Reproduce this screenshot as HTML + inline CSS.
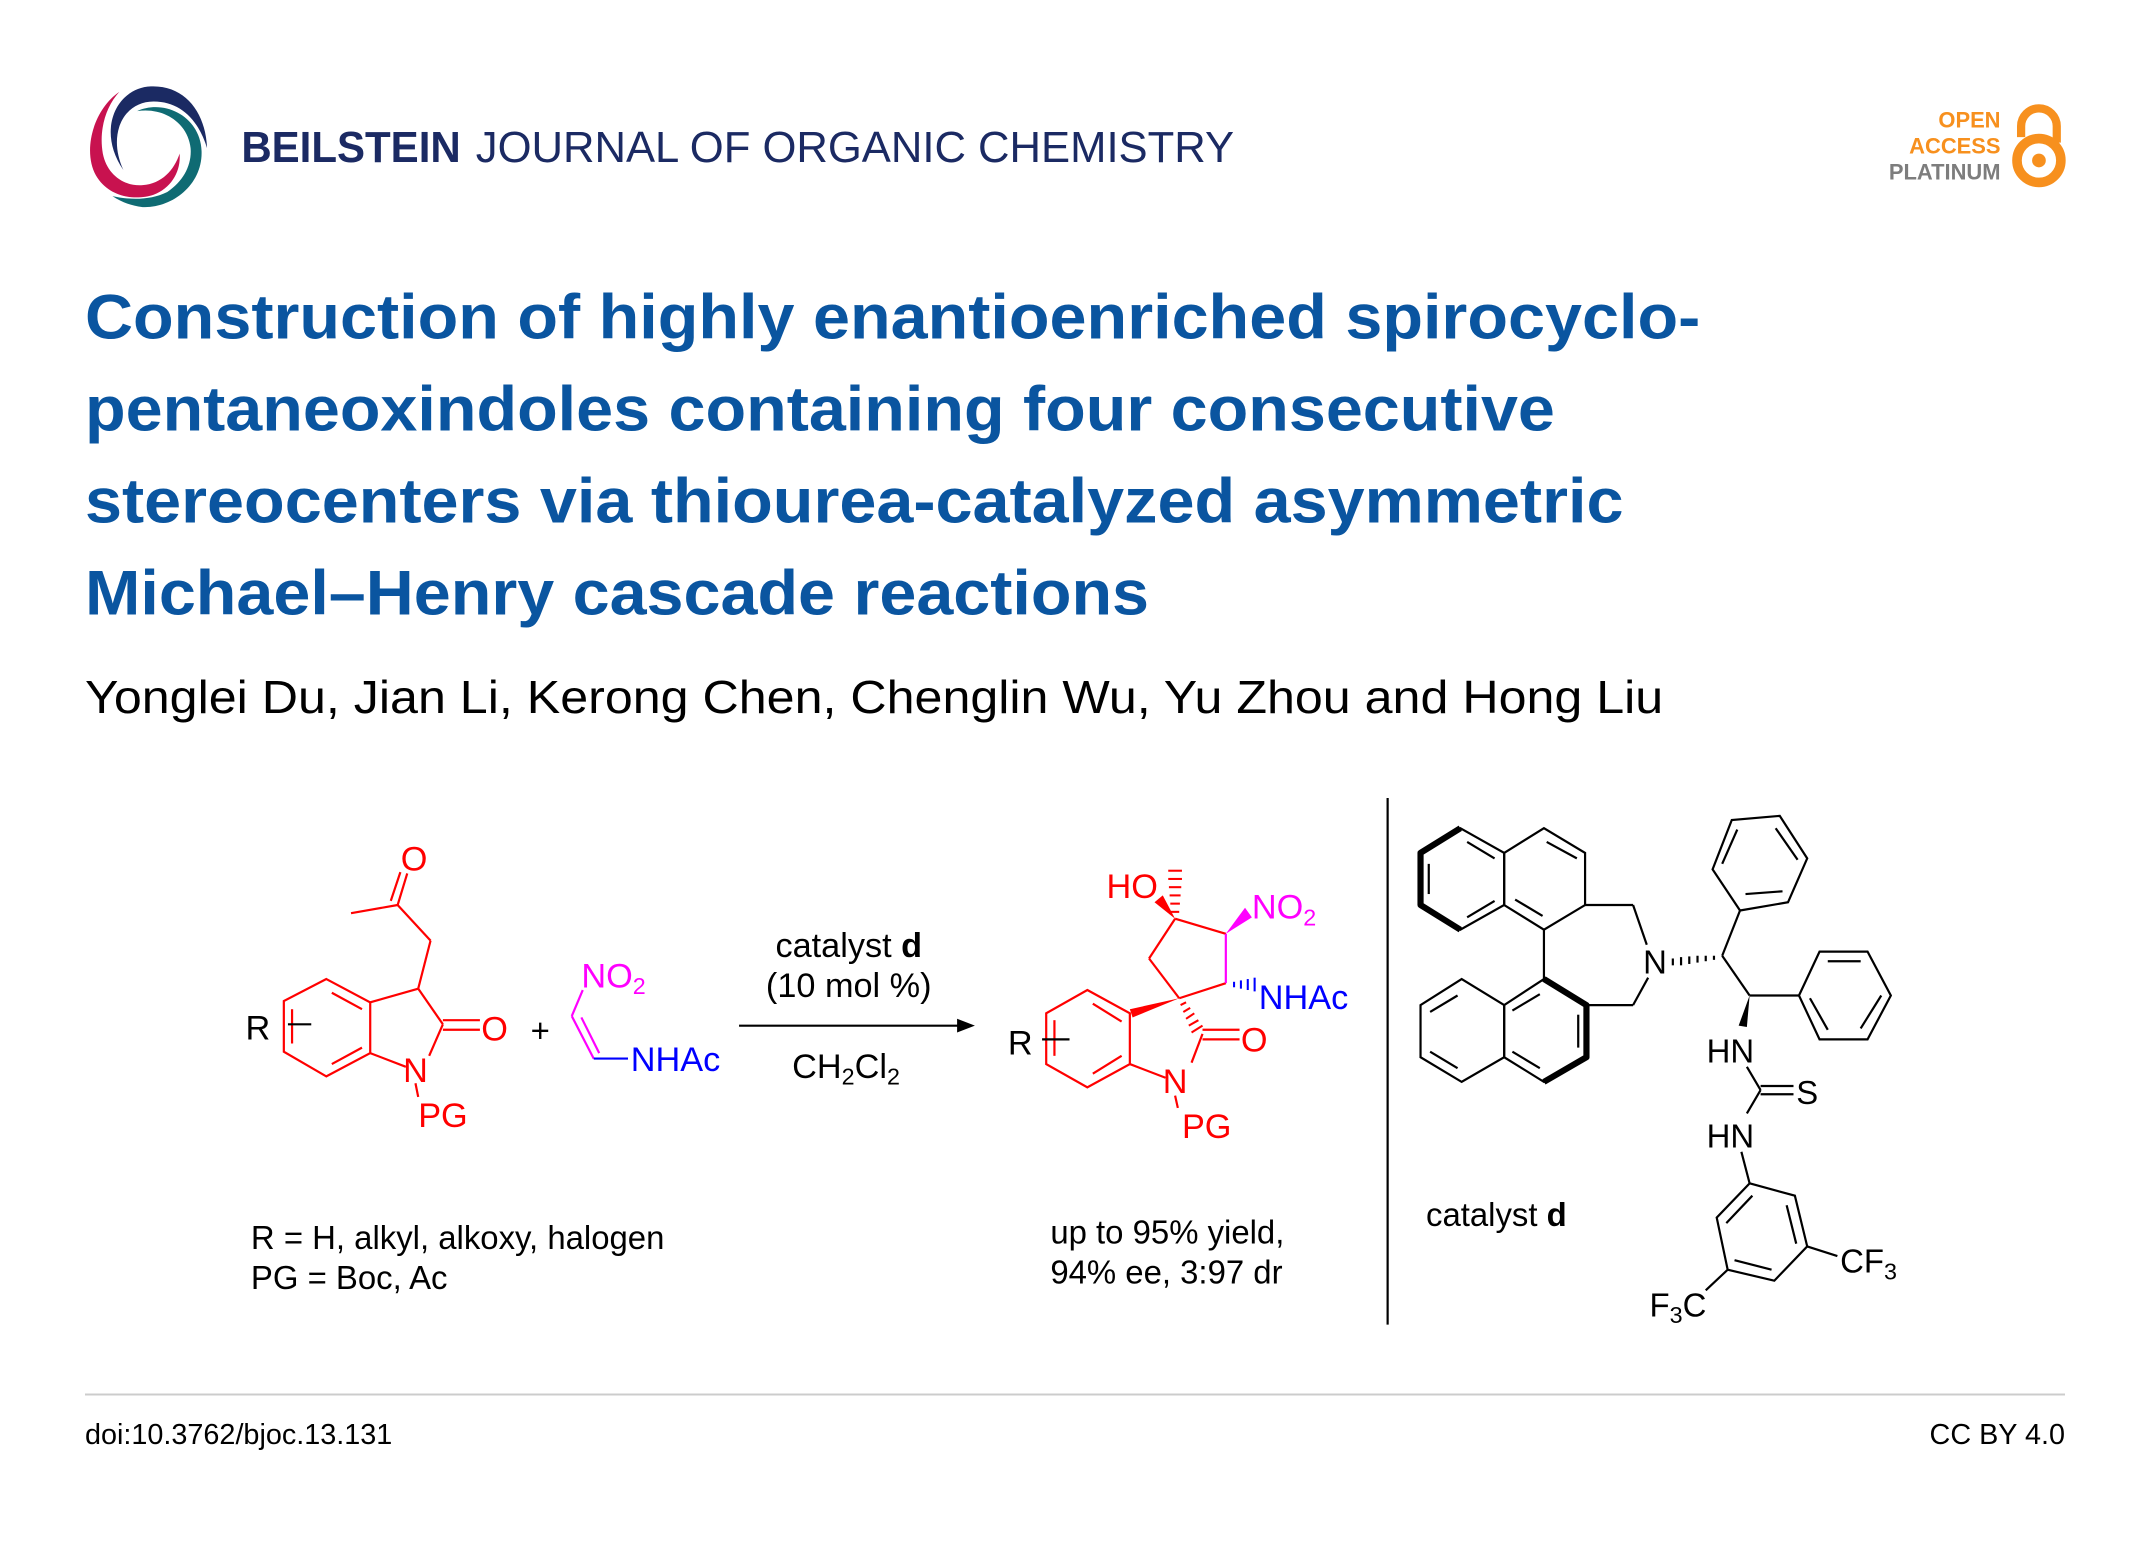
<!DOCTYPE html>
<html><head><meta charset="utf-8"><style>html,body{margin:0;padding:0;background:#fff}svg{display:block}</style></head>
<body>
<svg width="2150" height="1544" viewBox="0 0 1568 1126" xmlns="http://www.w3.org/2000/svg" font-family="Liberation Sans, Arial, sans-serif">
<rect width="1568" height="1126" fill="#fff"/>
<!-- logo -->
<path d="M87,67 C68,80 60,110 70,128 C80,145 100,146 112,142 C125,137 132,125 131,112 C127,124 118,134 104,135 C90,136 78,127 75,112 C72,95 77,78 87,67 Z" fill="#c8124f"/>
<path d="M100,81 C120,72 146,85 147,110 C148,135 125,152 104,151 C95,150 88,147 82,143 C95,146 110,146 122,140 C134,132 140,120 139,108 C137,90 120,78 100,81 Z" fill="#0f6b73"/>
<path d="M90,124 C70,95 85,64 110,63 C135,62 150,82 151,108 C145,88 132,74 112,74 C90,74 78,98 90,124 Z" fill="#1b2a63"/>
<text x="176" y="118" font-size="32" font-weight="bold" fill="#1b2a63" textLength="160" lengthAdjust="spacingAndGlyphs">BEILSTEIN</text>
<text x="347" y="118" font-size="32" fill="#1b2a63" textLength="553" lengthAdjust="spacingAndGlyphs">JOURNAL OF ORGANIC CHEMISTRY</text>
<!-- open access -->
<g font-size="16" font-weight="bold" text-anchor="end">
<text x="1459" y="93" fill="#f7901e">OPEN</text>
<text x="1459" y="112" fill="#f7901e">ACCESS</text>
<text x="1459" y="131" fill="#7d7d7d">PLATINUM</text>
</g>
<path d="M1474,100 V92 A13,13 0 0 1 1500,92 V104" stroke="#f7901e" stroke-width="6" fill="none"/>
<circle cx="1487" cy="117" r="16" stroke="#f7901e" stroke-width="7" fill="none"/>
<circle cx="1487" cy="117" r="5" fill="#f7901e"/>
<!-- title -->
<g font-size="46" font-weight="bold" fill="#0a55a0">
<text x="62" y="247" textLength="1178" lengthAdjust="spacingAndGlyphs">Construction of highly enantioenriched spirocyclo-</text>
<text x="62" y="314" textLength="1072" lengthAdjust="spacingAndGlyphs">pentaneoxindoles containing four consecutive</text>
<text x="62" y="381" textLength="1122" lengthAdjust="spacingAndGlyphs">stereocenters via thiourea-catalyzed asymmetric</text>
<text x="62" y="448" textLength="776" lengthAdjust="spacingAndGlyphs">Michael–Henry cascade reactions</text>
</g>
<text x="62" y="520" font-size="34" fill="#000" textLength="1151" lengthAdjust="spacingAndGlyphs">Yonglei Du, Jian Li, Kerong Chen, Chenglin Wu, Yu Zhou and Hong Liu</text>

<!-- left reactant -->
<g stroke="#f00" stroke-width="1.6" fill="none">
<polygon points="238,714 270,731 270,768 238,785 207,767 207,730"/>
<line x1="242" y1="724" x2="264" y2="736"/><line x1="242" y1="776" x2="264" y2="764"/><line x1="213" y1="736" x2="213" y2="761"/>
<line x1="270" y1="731" x2="305" y2="721"/><line x1="305" y1="721" x2="323" y2="747"/><line x1="323" y1="747" x2="313" y2="770"/>
<line x1="270" y1="768" x2="296" y2="778"/><line x1="303" y1="790" x2="305" y2="800"/>
<line x1="323" y1="744" x2="350" y2="744"/><line x1="323" y1="751" x2="350" y2="751"/>
<line x1="305" y1="721" x2="314" y2="686"/><line x1="314" y1="686" x2="290" y2="660"/><line x1="290" y1="660" x2="256" y2="666"/>
<line x1="290" y1="660" x2="297" y2="637"/><line x1="285" y1="657" x2="292" y2="636"/>
</g>
<line x1="210" y1="747" x2="227" y2="747" stroke="#000" stroke-width="1.6"/>
<g font-size="25" fill="#f00">
<text x="302" y="635" text-anchor="middle">O</text>
<text x="351" y="759">O</text>
<text x="303" y="789" text-anchor="middle">N</text>
<text x="305" y="822">PG</text>
</g>
<text x="179" y="758" font-size="25">R</text>
<text x="387" y="760" font-size="24">+</text>
<!-- nitroalkene -->
<g stroke="#f0f" stroke-width="1.6" fill="none">
<line x1="425" y1="722" x2="417" y2="741"/><line x1="417" y1="741" x2="433" y2="772"/><line x1="424" y1="742" x2="437" y2="768"/>
</g>
<line x1="433" y1="772" x2="458" y2="772" stroke="#00f" stroke-width="1.6"/>
<text x="424" y="720" font-size="25" fill="#f0f">NO<tspan font-size="17" dy="5">2</tspan></text>
<text x="460" y="781" font-size="25" fill="#00f">NHAc</text>
<!-- arrow -->
<line x1="539" y1="748" x2="700" y2="748" stroke="#000" stroke-width="1.6"/>
<polygon points="711,748 698,743 698,753" fill="#000"/>
<g font-size="25" text-anchor="middle">
<text x="619" y="698">catalyst <tspan font-weight="bold">d</tspan></text>
<text x="619" y="727">(10 mol %)</text>
<text x="617" y="786">CH<tspan font-size="17" dy="5">2</tspan><tspan dy="-5">Cl</tspan><tspan font-size="17" dy="5">2</tspan></text>
</g>
<!-- product -->
<g stroke="#f00" stroke-width="1.6" fill="none">
<polygon points="793,722 824,739 824,776 793,793 763,776 763,739"/>
<line x1="797" y1="732" x2="818" y2="745"/><line x1="797" y1="783" x2="818" y2="770"/><line x1="769" y1="744" x2="769" y2="770"/>
<line x1="824" y1="776" x2="850" y2="786"/><line x1="857" y1="799" x2="859" y2="808"/>
<line x1="877" y1="754" x2="869" y2="775"/>
<line x1="877" y1="751" x2="904" y2="751"/><line x1="877" y1="758" x2="904" y2="758"/>
<line x1="860" y1="728" x2="838" y2="699"/><line x1="838" y1="699" x2="857" y2="670"/><line x1="857" y1="670" x2="894" y2="681"/>
<line x1="894" y1="717" x2="860" y2="728"/>
</g>
<line x1="894" y1="681" x2="894" y2="717" stroke="#f0f" stroke-width="1.6"/>
<polygon points="860,728 824,736 826,742" fill="#f00"/>
<polygon points="857,670 842,658 848,653" fill="#f00"/>
<polygon points="894,681 908,662 913,669" fill="#f0f"/>
<g stroke="#f00" stroke-width="1.5">
<line x1="854" y1="665" x2="860" y2="665"/><line x1="853.5" y1="659" x2="860.5" y2="659"/><line x1="853" y1="653" x2="861" y2="653"/><line x1="852.5" y1="647" x2="861.5" y2="647"/><line x1="852" y1="641" x2="862" y2="641"/><line x1="852" y1="635" x2="862" y2="635"/>
<line x1="861" y1="733" x2="865" y2="731"/><line x1="863" y1="738" x2="868" y2="735"/><line x1="865" y1="743" x2="871" y2="739"/><line x1="867" y1="748" x2="874" y2="744"/><line x1="869" y1="753" x2="877" y2="748"/>
</g>
<g stroke="#00f" stroke-width="1.5">
<line x1="900" y1="716" x2="900" y2="720"/><line x1="905" y1="715" x2="905" y2="721"/><line x1="910" y1="714" x2="910" y2="722"/><line x1="915" y1="713" x2="915" y2="723"/>
</g>
<line x1="760" y1="758" x2="780" y2="758" stroke="#000" stroke-width="1.6"/>
<text x="735" y="769" font-size="25">R</text>
<g font-size="25" fill="#f00">
<text x="807" y="655">HO</text>
<text x="905" y="767">O</text>
<text x="857" y="797" text-anchor="middle">N</text>
<text x="862" y="830">PG</text>
</g>
<text x="913" y="670" font-size="25" fill="#f0f">NO<tspan font-size="17" dy="5">2</tspan></text>
<text x="918" y="736" font-size="25" fill="#00f">NHAc</text>
<g font-size="24">
<text x="183" y="911">R = H, alkyl, alkoxy, halogen</text>
<text x="183" y="940">PG = Boc, Ac</text>
<text x="766" y="907">up to 95% yield,</text>
<text x="766" y="936">94% ee, 3:97 dr</text>
<text x="1040" y="894">catalyst <tspan font-weight="bold">d</tspan></text>
</g>
<line x1="1012" y1="582" x2="1012" y2="966" stroke="#000" stroke-width="1.6"/>
<!-- catalyst -->
<g stroke="#000" stroke-width="1.6" fill="none">
<polygon points="1065,604 1097,622 1097,660 1065,678 1036,660 1036,622"/>
<polygon points="1097,622 1126,604 1156,622 1156,660 1126,678 1097,660"/>
<line x1="1042" y1="630" x2="1042" y2="652"/><line x1="1070" y1="614" x2="1090" y2="626"/><line x1="1070" y1="669" x2="1090" y2="657"/>
<line x1="1128" y1="614" x2="1150" y2="626"/><line x1="1105" y1="656" x2="1125" y2="668"/>
<line x1="1156" y1="660" x2="1191" y2="660"/><line x1="1191" y1="660" x2="1201" y2="689"/>
<line x1="1126" y1="678" x2="1126" y2="714"/>
<polygon points="1126,714 1157,733 1157,771 1126,789 1097,771 1097,733"/>
<polygon points="1097,733 1066,714 1036,733 1036,771 1066,789 1097,771"/>
<line x1="1151" y1="740" x2="1151" y2="764"/><line x1="1103" y1="737" x2="1123" y2="725"/><line x1="1103" y1="767" x2="1123" y2="779"/>
<line x1="1043" y1="738" x2="1063" y2="726"/><line x1="1043" y1="767" x2="1063" y2="779"/>
<line x1="1157" y1="733" x2="1191" y2="733"/><line x1="1191" y1="733" x2="1202" y2="713"/>
<line x1="1256" y1="697" x2="1276" y2="726"/><line x1="1256" y1="697" x2="1269" y2="664"/>
<polygon points="1269,664 1249,634 1263,598 1298,595 1318,626 1304,658"/>
<line x1="1256" y1="630" x2="1267" y2="605"/><line x1="1295" y1="604" x2="1311" y2="627"/><line x1="1273" y1="652" x2="1300" y2="650"/>
<line x1="1276" y1="726" x2="1312" y2="726"/>
<polygon points="1312,726 1327,694 1362,694 1379,726 1362,758 1327,758"/>
<line x1="1333" y1="701" x2="1357" y2="701"/><line x1="1372" y1="726" x2="1357" y2="750"/><line x1="1320" y1="728" x2="1333" y2="751"/>
<line x1="1274" y1="778" x2="1284" y2="795"/><line x1="1284" y1="795" x2="1274" y2="812"/>
<line x1="1284" y1="792" x2="1308" y2="792"/><line x1="1284" y1="798" x2="1308" y2="798"/>
<line x1="1270" y1="840" x2="1276" y2="863"/>
<polygon points="1276,863 1309,872 1318,909 1294,934 1260,926 1252,888"/>
<line x1="1278" y1="872" x2="1259" y2="892"/><line x1="1303" y1="879" x2="1310" y2="907"/><line x1="1265" y1="919" x2="1292" y2="926"/>
<line x1="1318" y1="909" x2="1340" y2="916"/><line x1="1260" y1="926" x2="1244" y2="941"/>
</g>
<g stroke="#000" stroke-width="4.5" fill="none" stroke-linejoin="round">
<polyline points="1065,604 1036,622 1036,660 1065,678"/>
<polyline points="1126,714 1157,733 1157,771 1126,789"/>
</g>
<polygon points="1276,726 1268,748 1274,749" fill="#000"/>
<g stroke="#000" stroke-width="1.6">
<line x1="1220" y1="699" x2="1220" y2="704"/><line x1="1226" y1="698" x2="1226" y2="704"/><line x1="1232" y1="697.5" x2="1232" y2="703"/><line x1="1238" y1="697" x2="1238" y2="702"/><line x1="1244" y1="697" x2="1244" y2="701"/><line x1="1250" y1="697" x2="1250" y2="700"/>
</g>
<g font-size="24">
<text x="1207" y="710" text-anchor="middle">N</text>
<text x="1262" y="775" text-anchor="middle">HN</text>
<text x="1310" y="805">S</text>
<text x="1262" y="837" text-anchor="middle">HN</text>
<text x="1342" y="928">CF<tspan font-size="17" dy="5">3</tspan></text>
<text x="1203" y="960">F<tspan font-size="17" dy="5">3</tspan><tspan dy="-5">C</tspan></text>
</g>
<!-- footer -->
<line x1="62" y1="1017" x2="1506" y2="1017" stroke="#ccc" stroke-width="1.5"/>
<text x="62" y="1053" font-size="21">doi:10.3762/bjoc.13.131</text>
<text x="1506" y="1053" font-size="21" text-anchor="end">CC BY 4.0</text>
</svg>
</body></html>
